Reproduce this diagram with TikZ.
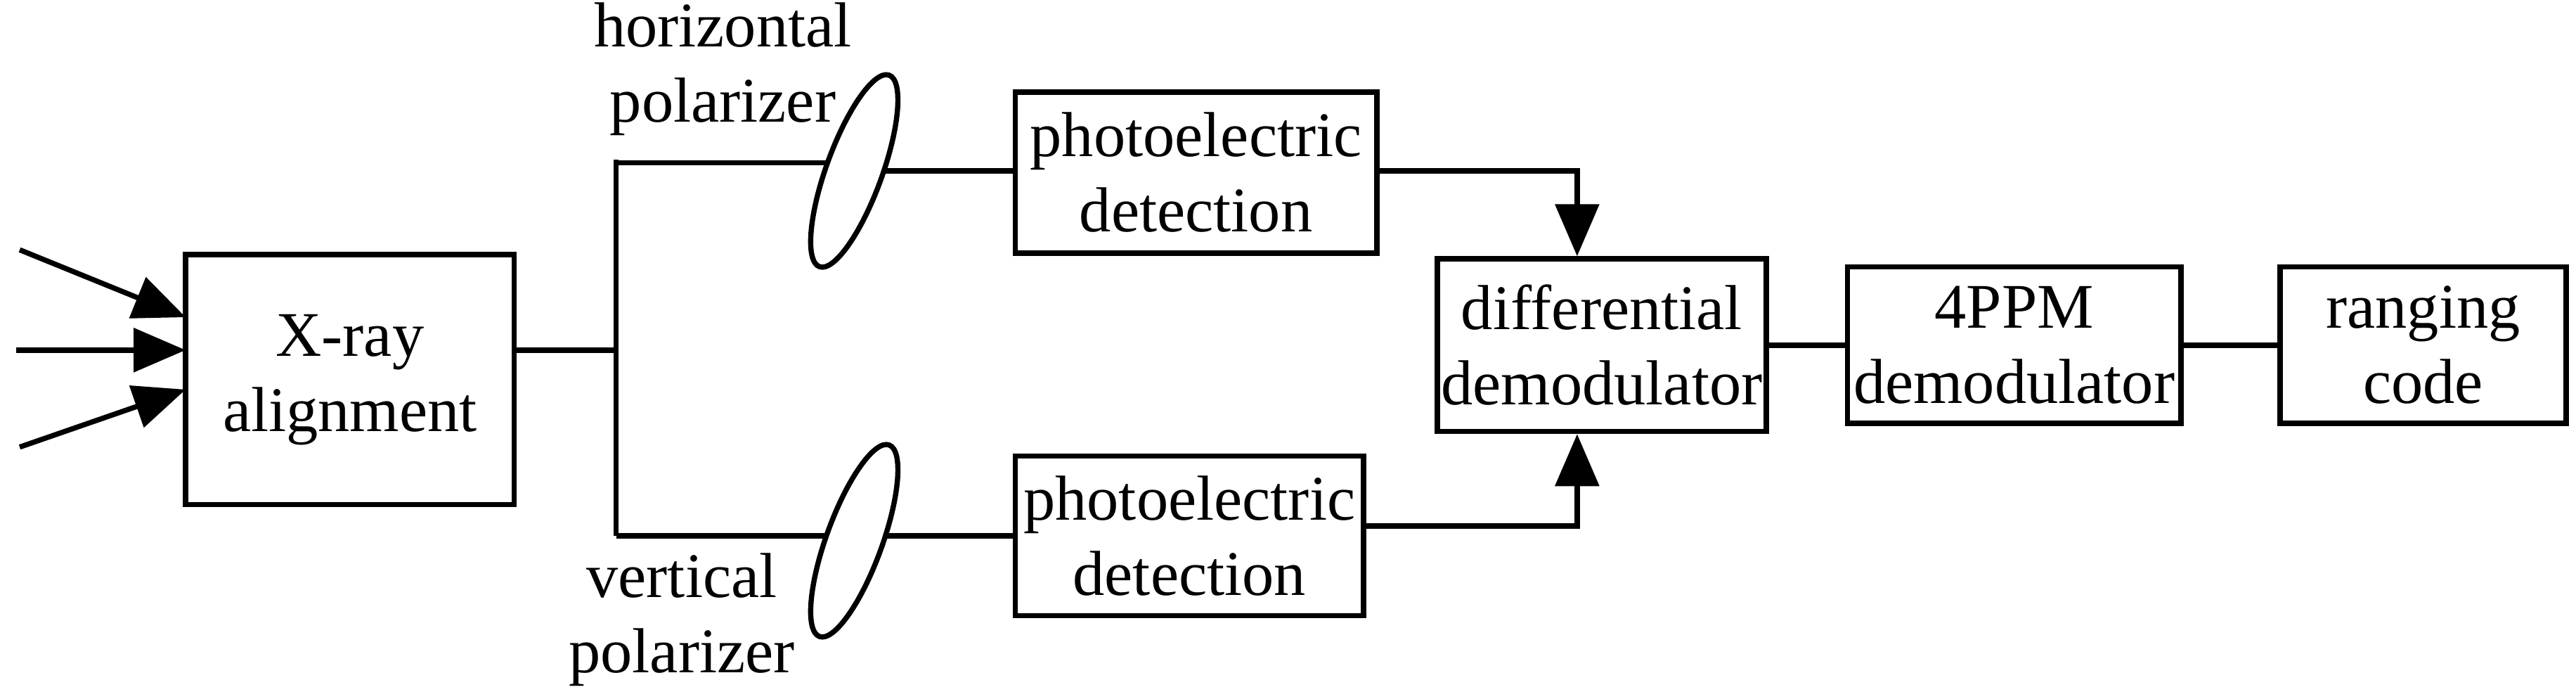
\documentclass[tikz,border=0pt]{standalone}
\usepackage{fontspec}
\setmainfont{Liberation Serif}
\newfontfamily\tnr{Liberation Serif}
\usetikzlibrary{arrows.meta}
\begin{document}
\begin{tikzpicture}[x=0.01cm,y=-0.01cm,line width=0.9pt,
  box/.style={draw,rectangle,align=center,inner sep=0pt,font=\tnr\fontsize{11}{13}\selectfont},
  lbl/.style={align=center,font=\tnr\fontsize{11}{13}\selectfont},
  arr/.style={-{Triangle[length=9pt,width=7.5pt]}}]
\useasboundingbox (0,0) rectangle (1568,425);
\node[box,minimum width=2.0cm,minimum height=1.52cm] (xr) at (213,231) {X-ray\\alignment};
\node[box,minimum width=2.2cm,minimum height=0.98cm] (p1) at (728,105) {photoelectric\\detection};
\node[box,minimum width=2.12cm,minimum height=0.97cm] (p2) at (724,326) {photoelectric\\detection};
\node[box,minimum width=2.0cm,minimum height=1.05cm] (df) at (975,210) {differential\\demodulator};
\node[box,minimum width=2.03cm,minimum height=0.95cm] (pm) at (1226,210) {4PPM\\demodulator};
\node[box,minimum width=1.74cm,minimum height=0.95cm] (rc) at (1475,210) {ranging\\code};
\draw[rotate around={70:(520,104)}] (520,104) ellipse (62 and 17);
\draw[rotate around={70:(520,329)}] (520,329) ellipse (62 and 17);
\coordinate (e1i) at (503,99); \coordinate (e1o) at (538,104);
\coordinate (e2i) at (503,326); \coordinate (e2o) at (538,326);
\node[lbl] (hl) at (440,42) {horizontal\\polarizer};
\node[lbl] (vl) at (415,377) {vertical\\polarizer};
\coordinate (j) at (375,213);
\coordinate (a1) at (12,152); \coordinate (a2) at (10,213); \coordinate (a3) at (12,272);
\draw[arr] (a1) -- (113,193);
\draw[arr] (a2) -- (113,213);
\draw[arr] (a3) -- (113,237);
\draw (xr.east|-j) -- (j) (375,97) -- (375,326);
\draw (375,99) -- (e1i) (e1o) -- (p1.west|-e1o);
\draw (375,326) -- (e2i) (e2o) -- (p2.west|-e2o);
\draw[arr] (p1.east|-0,104) -| (df.north-|960,0);
\draw[arr] (p2.east|-0,320) -| (df.south-|960,0);
\draw (df) -- (pm); \draw (pm) -- (rc);
\end{tikzpicture}
\end{document}
